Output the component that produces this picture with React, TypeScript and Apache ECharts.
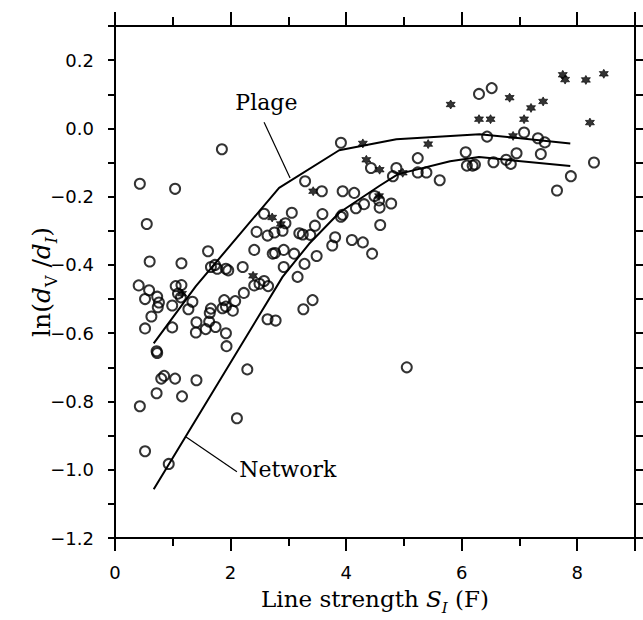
import React, { useEffect, useRef } from "react";
import * as echarts from "echarts";

// Open circles (x = line strength S_I, y = ln(dV/dI))
const openCircles: [number, number][] = [
  [1.85, -0.061], [0.43, -0.162], [1.04, -0.177],
  [3.91, -0.042], [5.24, -0.087], [4.43, -0.116], [4.87, -0.116], [4.81, -0.14],
  [5.24, -0.129], [5.39, -0.129], [5.62, -0.152], [3.29, -0.155], [3.58, -0.184],
  [3.94, -0.184], [4.14, -0.189], [4.49, -0.198], [4.57, -0.211], [4.58, -0.232],
  [4.78, -0.22], [4.31, -0.222], [4.17, -0.234], [3.94, -0.253], [3.91, -0.259],
  [3.59, -0.251], [3.06, -0.247], [2.58, -0.25], [4.59, -0.283], [2.95, -0.278],
  [3.46, -0.285], [2.45, -0.303], [2.64, -0.314], [2.76, -0.305], [2.9, -0.3],
  [3.19, -0.307], [3.25, -0.311], [3.38, -0.312], [3.81, -0.319], [3.76, -0.343],
  [4.1, -0.327], [4.29, -0.334], [4.45, -0.367], [2.41, -0.356], [2.73, -0.367],
  [2.77, -0.365], [2.92, -0.356], [3.1, -0.367], [3.49, -0.374], [2.92, -0.406],
  [3.28, -0.397], [3.16, -0.435], [2.41, -0.46], [2.5, -0.455], [2.58, -0.447],
  [2.65, -0.462], [3.42, -0.503], [3.26, -0.53], [2.64, -0.559], [2.78, -0.563],
  [0.55, -0.28], [0.6, -0.39], [1.15, -0.395], [1.61, -0.36], [1.66, -0.406],
  [1.73, -0.4], [1.77, -0.411], [1.92, -0.411], [1.96, -0.416], [2.21, -0.406],
  [0.41, -0.46], [0.59, -0.474], [0.52, -0.5], [0.73, -0.493], [0.76, -0.51],
  [0.74, -0.524], [1.05, -0.462], [1.15, -0.459], [1.09, -0.484], [1.14, -0.495],
  [0.99, -0.519], [1.34, -0.508], [1.27, -0.53], [1.66, -0.528], [0.63, -0.551],
  [0.52, -0.586], [0.99, -0.583], [1.41, -0.568], [1.4, -0.598], [1.64, -0.541],
  [1.63, -0.566], [1.57, -0.588], [1.74, -0.582], [1.89, -0.503], [1.92, -0.522],
  [1.86, -0.527], [2.08, -0.506], [2.04, -0.534], [2.23, -0.482], [1.92, -0.6],
  [1.93, -0.638], [2.29, -0.706], [0.72, -0.653], [0.73, -0.658], [0.8, -0.733],
  [0.85, -0.725], [1.04, -0.733], [1.41, -0.738],
  [0.43, -0.814], [1.16, -0.785], [0.72, -0.776], [2.11, -0.849], [0.52, -0.946],
  [0.93, -0.983], [5.05, -0.7],
  [6.3, 0.101], [6.52, 0.118], [6.44, -0.024], [7.08, -0.012], [7.32, -0.029],
  [7.44, -0.041], [7.37, -0.075], [6.07, -0.07], [6.09, -0.109], [6.19, -0.109],
  [6.23, -0.106], [6.55, -0.099], [6.77, -0.092], [6.85, -0.104], [6.95, -0.073],
  [7.89, -0.14], [7.65, -0.182], [8.29, -0.1],
];

// Asterisk points
const asterisks: [number, number][] = [
  [3.43, -0.184], [4.35, -0.092], [4.29, -0.044], [5.42, -0.046], [4.58, -0.121],
  [4.98, -0.13], [4.57, -0.198], [2.72, -0.261], [2.87, -0.28], [2.39, -0.432],
  [1.16, -0.484], [5.81, 0.07], [6.83, 0.09], [6.3, 0.027], [6.5, 0.027],
  [7.08, 0.027], [7.2, 0.06], [7.41, 0.079], [7.75, 0.157], [7.79, 0.143],
  [8.15, 0.142], [8.46, 0.16], [8.22, 0.017], [6.89, -0.022],
];

// Fitted curves
const plageCurve: [number, number][] = [
  [0.67, -0.63], [1.4, -0.462], [2.84, -0.174], [3.88, -0.064],
  [4.87, -0.032], [6.31, -0.017], [7.88, -0.044],
];
const networkCurve: [number, number][] = [
  [0.67, -1.057], [2.9, -0.435], [3.36, -0.338], [3.88, -0.247], [4.58, -0.168],
  [4.9, -0.134], [5.8, -0.096], [6.3, -0.084], [7.88, -0.11],
];

// Annotation anchors (data coordinates): text position, leader start, leader end
const plageLabel = { text: "Plage", at: [2.62, 0.075], from: [2.58, 0.018], to: [3.03, -0.145] };
const networkLabel = { text: "Network", at: [2.15, -1.0], from: [2.11, -1.006], to: [1.23, -0.904] };

const xLabelValues = [0, 2, 4, 6, 8];

const SERIF = "'DejaVu Serif', 'Liberation Serif', serif";
const SANS = "'DejaVu Sans', 'Liberation Sans', sans-serif";

function starPath(): string {
  const pts: string[] = [];
  for (let k = 0; k < 12; k++) {
    const r = k % 2 === 0 ? 10 : 5.5;
    const a = (Math.PI / 6) * k - Math.PI / 2;
    pts.push(`${(r * Math.cos(a)).toFixed(2)} ${(r * Math.sin(a)).toFixed(2)}`);
  }
  return "path://M" + pts.join(" L") + " Z";
}

export default function App() {
  const ref = useRef<HTMLDivElement>(null);
  useEffect(() => {
    if (!ref.current) return;
    const chart = echarts.init(ref.current, undefined, { renderer: "svg" });
    const axisLineStyle = { color: "#000", width: 2 };
    const tickLine = { color: "#000", width: 2 };
    const xBase = { type: "value" as const, min: 0, max: 9, gridIndex: 0, splitLine: { show: false } };
    const yBase = { type: "value" as const, min: -1.2, max: 0.3, interval: 0.1, gridIndex: 0, splitLine: { show: false } };
    const mkRich = (fs: number, sub: number) => ({
      n: { fontFamily: SERIF, fontSize: fs, color: "#000", lineHeight: fs + 10, verticalAlign: "middle" },
      i: { fontFamily: SERIF, fontSize: fs, fontStyle: "italic", color: "#000", lineHeight: fs + 10, verticalAlign: "middle" },
      s: { fontFamily: SERIF, fontSize: sub, color: "#000", lineHeight: sub + 1, verticalAlign: "bottom" },
      si: { fontFamily: SERIF, fontSize: sub, fontStyle: "italic", color: "#000", lineHeight: sub + 1, verticalAlign: "bottom" },
    });
    chart.setOption({
      animation: false,
      backgroundColor: "#fff",
      grid: { left: 115, right: 8, top: 26, bottom: 77, containLabel: false },
      xAxis: [
        {
          ...xBase,
          position: "bottom",
          interval: 1,
          axisLine: { show: true, onZero: false, lineStyle: axisLineStyle },
          axisTick: { show: true, length: 8, lineStyle: tickLine },
          axisLabel: {
            show: true,
            margin: 25,
            fontFamily: SANS,
            fontSize: 18,
            color: "#000",
            formatter: (v: number) => (xLabelValues.indexOf(Math.round(v)) >= 0 && Math.abs(v - Math.round(v)) < 1e-6 ? String(Math.round(v)) : ""),
          },
          name: "{n|Line strength }{i|S}{si|I}{n| (F)}",
          nameLocation: "middle",
          nameGap: 44,
          nameTextStyle: { rich: mkRich(23, 15) },
        },
        {
          ...xBase,
          position: "bottom",
          interval: 2,
          axisLine: { show: false, onZero: false },
          axisTick: { show: true, length: 13, lineStyle: tickLine },
          axisLabel: { show: false },
        },
        {
          ...xBase,
          position: "top",
          interval: 1,
          axisLine: { show: true, onZero: false, lineStyle: axisLineStyle },
          axisTick: { show: true, length: 9, lineStyle: tickLine },
          axisLabel: { show: false },
        },
        {
          ...xBase,
          position: "top",
          interval: 2,
          axisLine: { show: false, onZero: false },
          axisTick: { show: true, length: 14, lineStyle: tickLine },
          axisLabel: { show: false },
        },
      ],
      yAxis: [
        {
          ...yBase,
          position: "left",
          axisLine: { show: true, onZero: false, lineStyle: axisLineStyle },
          axisTick: { show: true, length: 7, lineStyle: tickLine },
          axisLabel: {
            show: true,
            margin: 21,
            fontFamily: SANS,
            fontSize: 18,
            color: "#000",
            formatter: (v: number) => {
              const t = Math.round(v * 10);
              if (t % 2 !== 0) return "";
              const s = (Math.abs(t) / 10).toFixed(1);
              return t < 0 ? "\u2212" + s : s;
            },
          },
          name: "{n|ln(}{i|d}{s|V}{n| /}{i|d}{si|I}{n|)}",
          nameLocation: "middle",
          nameRotate: 90,
          nameGap: 56,
          nameMoveOverlap: false,
          nameTextStyle: { rich: mkRich(25, 16) },
        },
        {
          ...yBase,
          position: "right",
          axisLine: { show: true, onZero: false, lineStyle: axisLineStyle },
          axisTick: { show: true, length: 8, lineStyle: tickLine },
          axisLabel: { show: false },
        },
      ],
      series: [
        {
          name: "circles",
          type: "scatter",
          xAxisIndex: 0,
          yAxisIndex: 0,
          data: openCircles,
          symbol: "circle",
          symbolSize: 10,
          itemStyle: { color: "rgba(0,0,0,0)", borderColor: "#000", borderWidth: 2 },
          emphasis: { disabled: true },
        },
        {
          name: "asterisks",
          type: "scatter",
          xAxisIndex: 0,
          yAxisIndex: 0,
          data: asterisks,
          symbol: starPath(),
          symbolSize: 9,
          itemStyle: { color: "#000", borderColor: "#000", borderWidth: 0.8 },
          emphasis: { disabled: true },
        },
        {
          name: "Plage",
          type: "line",
          xAxisIndex: 0,
          yAxisIndex: 0,
          data: plageCurve,
          showSymbol: false,
          symbol: "none",
          lineStyle: { color: "#000", width: 2 },
        },
        {
          name: "Network",
          type: "line",
          xAxisIndex: 0,
          yAxisIndex: 0,
          data: networkCurve,
          showSymbol: false,
          symbol: "none",
          lineStyle: { color: "#000", width: 2 },
        },
      ],
    });

    const px = (p: number[]) => chart.convertToPixel({ gridIndex: 0 }, p) as number[];
    const mk = (lab: { text: string; at: number[]; from: number[]; to: number[] }, align: string) => {
      const a = px(lab.at);
      const f = px(lab.from);
      const t = px(lab.to);
      return [
        {
          type: "text",
          x: a[0],
          y: a[1],
          style: { text: lab.text, font: `22px ${SERIF}`, fill: "#000", align, verticalAlign: "middle" },
        },
        {
          type: "line",
          shape: { x1: f[0], y1: f[1], x2: t[0], y2: t[1] },
          style: { stroke: "#000", lineWidth: 1.2 },
        },
      ];
    };
    chart.setOption({
      graphic: [...mk(plageLabel, "center"), ...mk(networkLabel, "left")],
    });

    return () => chart.dispose();
  }, []);
  return <div ref={ref} style={{ position: "fixed", left: 0, top: 0, width: 643, height: 620 }} />;
}
